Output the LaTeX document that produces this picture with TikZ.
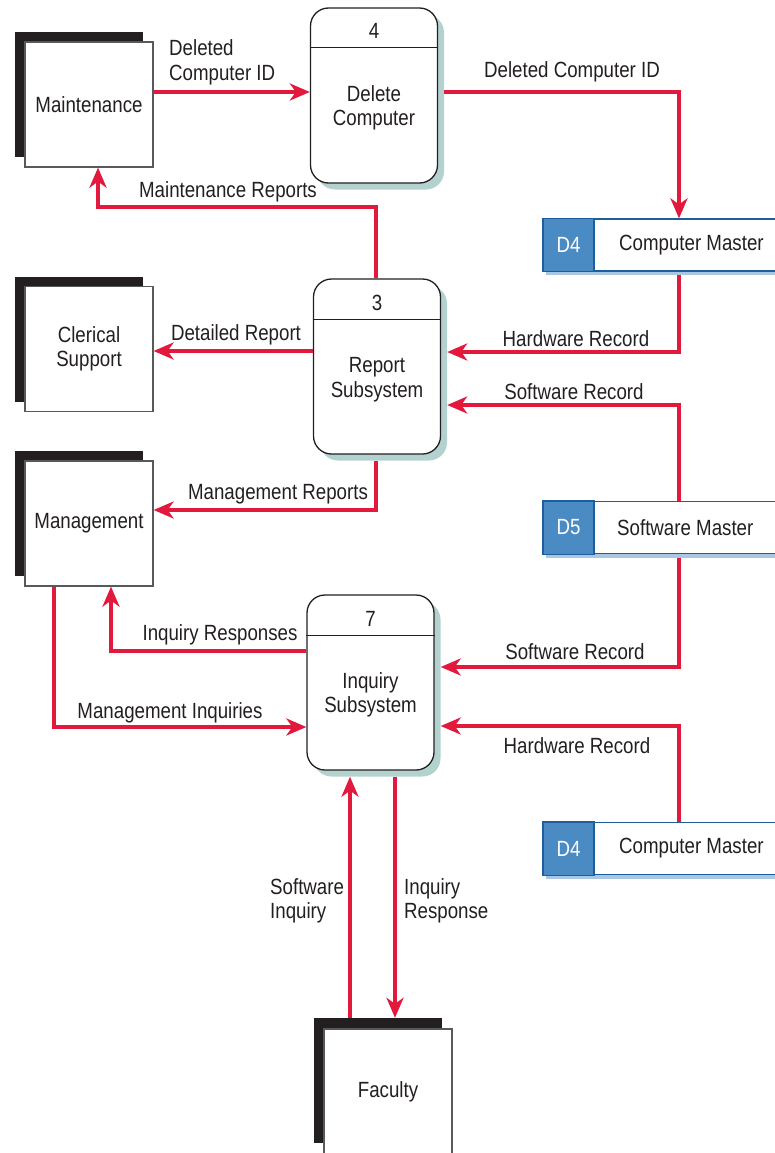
\documentclass[tikz,border=0pt]{standalone}
\usepackage{fontspec}
\setmainfont[FakeStretch=0.85]{Liberation Sans}
\usetikzlibrary{calc,arrows.meta}
\definecolor{flow}{HTML}{E2183D}
\definecolor{ink}{HTML}{231F20}
\definecolor{entline}{HTML}{58595B}
\definecolor{pshadow}{HTML}{B3D2CF}
\definecolor{dsblue}{HTML}{4B8BC3}
\definecolor{dsline}{HTML}{1E5E9C}
\definecolor{dsshadow}{HTML}{A9C6E2}
\begin{document}
\begin{tikzpicture}[x=1pt,y=-1pt,
  every node/.style={font=\fontsize{22}{24.5}\selectfont, text=ink},
  txt/.style={inner sep=0pt},
  lbl/.style={inner sep=0pt, align=left, anchor=west},
  ent/.style={draw=entline, line width=1.2pt, fill=white, minimum width=128pt, minimum height=125pt, inner sep=0pt, align=center},
  entshadow/.style={fill=ink, minimum width=128pt, minimum height=125pt, inner sep=0pt},
  proc/.style={draw=ink, line width=1.3pt, fill=white, rounded corners=18pt, minimum width=127pt, minimum height=175pt, inner sep=0pt},
  procshadow/.style={fill=pshadow, rounded corners=18pt, minimum width=127pt, minimum height=175pt, inner sep=0pt},
  procline/.style={draw=ink, line width=1.1pt},
  store/.style={draw=dsline, line width=1.2pt, fill=white, minimum width=260pt, minimum height=52pt, inner sep=0pt, anchor=west},
  storeshadow/.style={fill=dsshadow, minimum width=260pt, minimum height=52pt, inner sep=0pt, anchor=west},
  idbox/.style={draw=dsline, line width=1.2pt, fill=dsblue},
  idtxt/.style={inner sep=0pt, text=white},
  flowline/.style={draw=flow, line width=4pt, -{Stealth[length=20pt,width=17pt,inset=6pt]}},
]
\useasboundingbox (0,0) rectangle (775,1153);

% ---------- external entities ----------
\node[entshadow] (maints) at (79,94.5) {};
\node[ent] (maint) at (89,104.5) {Maintenance};
\node[entshadow] (clers) at (79,339) {};
\node[ent] (cler) at (89,349) {Clerical\\Support};
\node[entshadow] (mgmts) at (79,513.5) {};
\node[ent] (mgmt) at (89,523.5) {Management};
\node[entshadow] (facs) at (378,1080.5) {};
\node[ent] (fac) at (388,1091.5) {Faculty};

% ---------- processes ----------
\node[procshadow] (p4s) at (380.5,102) {};
\node[proc] (p4) at (374,95.5) {};
\draw[procline] ($(p4.north west)+(0,40)$) -- ($(p4.north east)+(0,40)$);
\node[txt, anchor=base] (p4n) at ($(p4.north)+(0,31)$) {4};
\node[txt, align=center] (p4t) at ($(p4.center)+(0,12.5)$) {Delete\\Computer};

\node[procshadow] (p3s) at (383.5,373) {};
\node[proc] (p3) at (377,366.5) {};
\draw[procline] ($(p3.north west)+(0,41)$) -- ($(p3.north east)+(0,41)$);
\node[txt, anchor=base] (p3n) at ($(p3.north)+(0,32)$) {3};
\node[txt, align=center] (p3t) at ($(p3.center)+(0,13)$) {Report\\Subsystem};

\node[procshadow] (p7s) at (377,689) {};
\node[proc] (p7) at (370.5,682.5) {};
\draw[procline] ($(p7.north west)+(0,41)$) -- ($(p7.north east)+(0,41)$);
\node[txt, anchor=base] (p7n) at ($(p7.north)+(0,32)$) {7};
\node[txt, align=center] (p7t) at ($(p7.center)+(0,12.5)$) {Inquiry\\Subsystem};

% ---------- data stores ----------
\node[storeshadow] (d4as) at (546,249) {};
\node[store] (d4a) at (543,245) {};
\draw[idbox] (d4a.north west) rectangle ($(d4a.south west)+(51,0)$);
\node[idtxt] (d4aid) at ($(d4a.west)+(25.5,0)$) {D4};
\node[txt, anchor=west] (d4atx) at ($(d4a.west)+(76,0)$) {Computer Master};

\node[storeshadow] (d5s) at (546,531.5) {};
\node[store] (d5) at (543,527.5) {};
\draw[idbox] (d5.north west) rectangle ($(d5.south west)+(51,0)$);
\node[idtxt] (d5id) at ($(d5.west)+(25.5,0)$) {D5};
\node[txt, anchor=west] (d5tx) at ($(d5.west)+(74,0)$) {Software Master};

\node[storeshadow] (d4bs) at (546,852.5) {};
\node[store] (d4b) at (543,848.5) {};
\draw[idbox] (d4b.north west) rectangle ($(d4b.south west)+(51,0)$);
\node[idtxt] (d4bid) at ($(d4b.west)+(25.5,0)$) {D4};
\node[txt, anchor=west] (d4btx) at ($(d4b.west)+(76,0)$) {Computer Master};

% ---------- data flows ----------
\draw[flowline] (maint.east |- 0,92) -- (p4.west |- 0,92);
\draw[flowline] (p4s.east |- 0,92) -- (679,92) -- (d4a.north -| 679,0);
\draw[flowline] (p3.north -| 376,0) -- (376,207) -- (98,207) -- (maint.south -| 98,0);
\draw[flowline] (p3.west |- 0,351) -- (cler.east |- 0,351);
\draw[flowline] (d4as.south -| 679,0) -- (679,352) -- (p3s.east |- 0,352);
\draw[flowline] (d5.north -| 679,0) -- (679,405) -- (p3s.east |- 0,405);
\draw[flowline] (p3s.south -| 376,0) -- (376,510) -- (mgmt.east |- 0,510);
\draw[flowline] (d5s.south -| 679,0) -- (679,667) -- (p7s.east |- 0,667);
\draw[flowline] (d4b.north -| 679,0) -- (679,726) -- (p7s.east |- 0,726);
\draw[flowline] (p7.west |- 0,651) -- (111,651) -- (mgmt.south -| 111,0);
\draw[flowline] (mgmt.south -| 54,0) -- (54,727) -- (p7.west |- 0,727);
\draw[flowline] (facs.north -| 350,0) -- (p7s.south -| 350,0);
\draw[flowline] (p7s.south -| 395,0) -- (facs.north -| 395,0);

% ---------- flow labels ----------
\node[lbl] (l1) at (169,62.5) {Deleted\\Computer ID};
\node[txt, anchor=base] (l2) at (572,77.5) {Deleted Computer ID};
\node[txt, anchor=base] (l3) at (228,197) {Maintenance Reports};
\node[txt, anchor=base] (l4) at (236,340) {Detailed Report};
\node[txt, anchor=base] (l5) at (576,346) {Hardware Record};
\node[txt, anchor=base] (l6) at (574,399) {Software Record};
\node[txt, anchor=base] (l7) at (278,499) {Management Reports};
\node[txt, anchor=base] (l8) at (575,659) {Software Record};
\node[txt, anchor=base] (l9) at (577,753) {Hardware Record};
\node[txt, anchor=base] (l10) at (220,640) {Inquiry Responses};
\node[txt, anchor=base] (l11) at (170,718) {Management Inquiries};
\node[lbl] (l12) at (270,901) {Software\\Inquiry};
\node[lbl] (l13) at (404,901) {Inquiry\\Response};
\end{tikzpicture}
\end{document}
